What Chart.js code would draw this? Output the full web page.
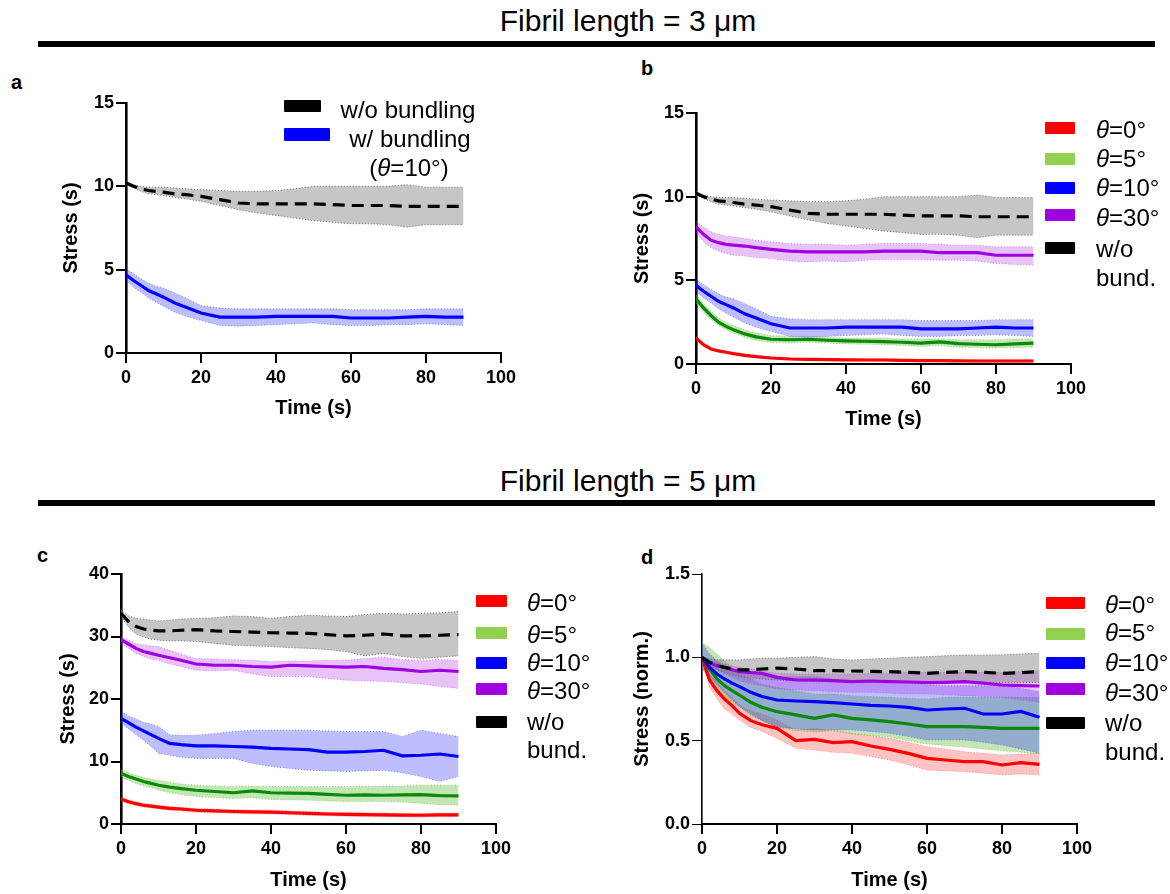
<!DOCTYPE html>
<html>
<head>
<meta charset="utf-8">
<script src="https://cdn.jsdelivr.net/npm/chart.js@4.4.1/dist/chart.umd.min.js"></script>
<style>
  html, body { margin: 0; padding: 0; background: #fff; }
  #page { position: relative; width: 1170px; height: 894px; overflow: hidden; font-family: "Liberation Sans", Arial, sans-serif; color: #000; }
  .box { position: absolute; }
  .box canvas { display: block; }
  .head { position: absolute; left: 628px; transform: translate(-50%, -50%); font-size: 30px; white-space: nowrap; }
  .rule { position: absolute; left: 38px; width: 1117px; height: 6px; background: #000; }
  .letter { position: absolute; font-weight: bold; font-size: 20px; transform: translateY(-50%); }
  .sw { position: absolute; height: 12px; border-radius: 1px; }
  .lt { position: absolute; font-size: 24px; transform: translateY(-50%); white-space: nowrap; }
</style>
</head>
<body>
<div id="page">
  <div class="head" style="top:21px">Fibril length = 3 μm</div>
  <div class="rule" style="top:41px"></div>
  <div class="head" style="top:481px">Fibril length = 5 μm</div>
  <div class="rule" style="top:500px"></div>
  <div class="letter" style="left:11px;top:82px">a</div>
  <div class="letter" style="left:641px;top:68px">b</div>
  <div class="letter" style="left:37px;top:555px">c</div>
  <div class="letter" style="left:641px;top:557px">d</div>
</div>
<script>
const TIME = [0, 2, 4, 6, 8, 10, 13, 16, 20, 25, 30, 35, 40, 45, 50, 55, 60, 65, 70, 75, 80, 85, 90];

// fibril length 3 um, stress (s)
const L3_WO_MEAN = [10.2, 10.0, 9.85, 9.75, 9.7, 9.65, 9.55, 9.5, 9.4, 9.2, 9.0, 8.95, 8.95, 8.95, 8.95, 8.9, 8.85, 8.85, 8.85, 8.8, 8.8, 8.8, 8.8];
const L3_WO_HI = [10.3, 10.1, 10.0, 9.95, 9.95, 9.95, 9.9, 9.85, 9.8, 9.75, 9.7, 9.7, 9.75, 9.85, 10.0, 10.0, 10.0, 10.0, 10.0, 10.1, 9.95, 9.95, 9.95];
const L3_WO_LO = [10.1, 9.9, 9.7, 9.55, 9.5, 9.45, 9.35, 9.25, 9.1, 8.85, 8.6, 8.4, 8.25, 8.1, 7.95, 7.85, 7.75, 7.75, 7.7, 7.55, 7.7, 7.7, 7.7];

const L3_T30_MEAN = [8.2, 7.75, 7.4, 7.25, 7.15, 7.1, 7.05, 6.95, 6.85, 6.75, 6.7, 6.7, 6.7, 6.7, 6.75, 6.75, 6.75, 6.65, 6.65, 6.65, 6.5, 6.5, 6.5];
const L3_T30_HI = [8.5, 8.2, 7.9, 7.75, 7.65, 7.6, 7.5, 7.4, 7.3, 7.2, 7.15, 7.15, 7.1, 7.15, 7.2, 7.2, 7.2, 7.15, 7.1, 7.1, 7.0, 7.0, 7.0];
const L3_T30_LO = [7.9, 7.3, 6.95, 6.75, 6.6, 6.5, 6.45, 6.35, 6.3, 6.15, 6.1, 6.15, 6.1, 6.2, 6.25, 6.25, 6.25, 6.2, 6.2, 6.15, 6.0, 5.95, 5.9];

const L3_T10_MEAN = [4.7, 4.35, 4.05, 3.75, 3.55, 3.35, 3.0, 2.75, 2.4, 2.15, 2.15, 2.15, 2.2, 2.2, 2.2, 2.2, 2.1, 2.1, 2.1, 2.15, 2.2, 2.15, 2.15];
const L3_T10_HI = [5.05, 4.75, 4.45, 4.2, 4.0, 3.9, 3.6, 3.3, 2.85, 2.7, 2.65, 2.65, 2.65, 2.65, 2.65, 2.65, 2.6, 2.6, 2.6, 2.6, 2.65, 2.65, 2.65];
const L3_T10_LO = [4.35, 3.95, 3.65, 3.3, 3.05, 2.8, 2.45, 2.2, 1.95, 1.65, 1.6, 1.65, 1.7, 1.75, 1.8, 1.7, 1.65, 1.65, 1.7, 1.7, 1.75, 1.7, 1.65];

const L3_T5_MEAN = [3.9, 3.35, 2.9, 2.5, 2.25, 2.05, 1.8, 1.62, 1.48, 1.45, 1.48, 1.42, 1.38, 1.36, 1.34, 1.3, 1.25, 1.32, 1.22, 1.18, 1.15, 1.2, 1.25];
const L3_T5_HI = [4.15, 3.6, 3.15, 2.75, 2.5, 2.3, 2.05, 1.85, 1.7, 1.65, 1.65, 1.6, 1.55, 1.55, 1.55, 1.5, 1.5, 1.5, 1.45, 1.45, 1.45, 1.5, 1.5];
const L3_T5_LO = [3.65, 3.1, 2.65, 2.3, 2.05, 1.85, 1.6, 1.42, 1.28, 1.25, 1.3, 1.25, 1.2, 1.18, 1.15, 1.1, 1.05, 1.1, 1.0, 0.98, 0.95, 0.98, 1.0];

const L3_T0_MEAN = [1.55, 1.15, 0.9, 0.78, 0.7, 0.62, 0.52, 0.44, 0.36, 0.3, 0.28, 0.26, 0.25, 0.24, 0.24, 0.22, 0.2, 0.2, 0.19, 0.18, 0.18, 0.18, 0.18];
const L3_T0_HI = [1.62, 1.22, 0.97, 0.85, 0.77, 0.69, 0.59, 0.51, 0.43, 0.37, 0.35, 0.33, 0.32, 0.31, 0.31, 0.29, 0.27, 0.27, 0.26, 0.25, 0.25, 0.25, 0.25];
const L3_T0_LO = [1.48, 1.08, 0.84, 0.72, 0.64, 0.56, 0.46, 0.38, 0.3, 0.24, 0.22, 0.2, 0.19, 0.18, 0.18, 0.16, 0.14, 0.14, 0.13, 0.12, 0.12, 0.12, 0.12];

// fibril length 5 um, stress (s)
const L5_WO_MEAN = [33.7, 32.4, 31.6, 31.2, 31.0, 30.9, 30.9, 31.0, 31.1, 30.9, 30.8, 30.7, 30.6, 30.55, 30.5, 30.3, 30.1, 30.2, 30.4, 30.1, 30.1, 30.2, 30.3];
const L5_WO_HI = [34.2, 33.3, 32.9, 32.8, 32.6, 32.5, 32.6, 32.8, 32.9, 33.0, 33.3, 33.2, 32.9, 33.2, 33.4, 33.3, 33.2, 33.5, 33.7, 33.6, 33.7, 33.8, 34.0];
const L5_WO_LO = [33.2, 31.5, 30.4, 29.9, 29.6, 29.4, 29.3, 29.3, 29.2, 28.9, 28.6, 28.5, 28.4, 28.2, 28.1, 27.9, 27.6, 26.9, 27.3, 26.8, 26.5, 26.7, 26.9];

const L5_T30_MEAN = [29.5, 28.8, 28.1, 27.6, 27.3, 27.0, 26.6, 26.2, 25.6, 25.4, 25.4, 25.2, 25.1, 25.4, 25.3, 25.2, 25.1, 25.2, 24.9, 24.7, 24.4, 24.6, 24.4];
const L5_T30_HI = [30.0, 29.4, 28.9, 28.7, 28.5, 28.4, 27.8, 27.2, 26.5, 26.4, 26.3, 26.2, 26.0, 26.1, 26.1, 26.2, 26.2, 26.5, 26.7, 26.3, 26.2, 26.3, 26.2];
const L5_T30_LO = [28.9, 28.1, 27.3, 26.8, 26.4, 26.2, 25.6, 25.2, 24.6, 24.5, 24.6, 24.0, 23.6, 23.6, 23.6, 23.3, 23.0, 22.9, 22.8, 22.6, 22.4, 22.0, 21.7];

const L5_T10_MEAN = [16.9, 16.2, 15.5, 14.9, 14.3, 13.7, 12.9, 12.7, 12.5, 12.5, 12.4, 12.3, 12.1, 12.0, 11.9, 11.5, 11.5, 11.6, 11.8, 10.9, 11.0, 11.2, 10.8];
const L5_T10_HI = [18.0, 17.3, 16.8, 16.3, 16.0, 15.6, 14.3, 14.2, 14.2, 14.5, 14.8, 15.0, 15.0, 15.0, 15.0, 14.9, 14.8, 14.8, 14.8, 14.0, 15.0, 14.5, 14.0];
const L5_T10_LO = [16.1, 15.2, 14.3, 13.4, 12.4, 11.3, 11.0, 10.7, 10.5, 10.5, 10.5, 9.7, 9.2, 8.9, 8.6, 8.5, 8.4, 8.5, 8.6, 8.2, 7.6, 6.8, 7.6];

const L5_T5_MEAN = [8.1, 7.6, 7.2, 6.8, 6.5, 6.2, 5.9, 5.65, 5.4, 5.2, 5.0, 5.3, 5.0, 4.95, 4.9, 4.75, 4.6, 4.65, 4.6, 4.65, 4.7, 4.55, 4.5];
const L5_T5_HI = [8.7, 8.2, 7.8, 7.5, 7.2, 7.0, 6.7, 6.4, 6.2, 6.1, 6.0, 6.1, 6.0, 6.0, 6.0, 6.0, 6.0, 6.05, 6.1, 6.1, 6.2, 6.2, 6.2];
const L5_T5_LO = [7.6, 7.0, 6.5, 6.1, 5.8, 5.4, 5.0, 4.7, 4.4, 4.2, 4.1, 4.2, 3.9, 3.85, 3.8, 3.7, 3.6, 3.6, 3.6, 3.5, 3.3, 3.1, 3.0];

const L5_T0_MEAN = [4.0, 3.55, 3.25, 3.0, 2.85, 2.7, 2.5, 2.4, 2.2, 2.1, 2.0, 1.95, 1.9, 1.8, 1.7, 1.6, 1.55, 1.5, 1.45, 1.42, 1.4, 1.45, 1.45];
const L5_T0_HI = [4.3, 3.85, 3.55, 3.3, 3.15, 3.0, 2.8, 2.7, 2.5, 2.4, 2.3, 2.25, 2.2, 2.1, 2.0, 1.9, 1.85, 1.8, 1.75, 1.72, 1.7, 1.75, 1.75];
const L5_T0_LO = [3.7, 3.25, 2.95, 2.7, 2.55, 2.4, 2.2, 2.1, 1.9, 1.8, 1.7, 1.65, 1.6, 1.5, 1.4, 1.3, 1.25, 1.2, 1.15, 1.12, 1.1, 1.15, 1.15];

// fibril length 5 um, stress normalised
const N5_WO_MEAN = [1.0, 0.97, 0.95, 0.94, 0.93, 0.925, 0.925, 0.93, 0.935, 0.93, 0.92, 0.92, 0.918, 0.916, 0.914, 0.91, 0.904, 0.91, 0.914, 0.91, 0.904, 0.908, 0.914];
const N5_WO_HI = [1.0, 0.99, 0.985, 0.985, 0.985, 0.984, 0.99, 0.995, 0.995, 1.0, 1.004, 0.99, 0.984, 0.99, 0.995, 1.0, 1.004, 1.01, 1.014, 1.014, 1.015, 1.02, 1.024];
const N5_WO_LO = [1.0, 0.95, 0.925, 0.91, 0.895, 0.884, 0.875, 0.87, 0.864, 0.86, 0.854, 0.854, 0.854, 0.854, 0.854, 0.852, 0.85, 0.85, 0.85, 0.848, 0.848, 0.848, 0.85];

const N5_T30_MEAN = [1.0, 0.965, 0.95, 0.94, 0.925, 0.914, 0.908, 0.904, 0.88, 0.864, 0.864, 0.86, 0.854, 0.858, 0.854, 0.852, 0.848, 0.85, 0.854, 0.845, 0.834, 0.83, 0.828];
const N5_T30_HI = [1.0, 0.98, 0.97, 0.96, 0.95, 0.94, 0.93, 0.92, 0.905, 0.9, 0.9, 0.9, 0.9, 0.905, 0.905, 0.91, 0.91, 0.91, 0.91, 0.91, 0.91, 0.915, 0.92];
const N5_T30_LO = [1.0, 0.95, 0.925, 0.9, 0.88, 0.86, 0.84, 0.83, 0.81, 0.805, 0.8, 0.795, 0.79, 0.79, 0.785, 0.78, 0.78, 0.775, 0.77, 0.765, 0.76, 0.745, 0.73];

const N5_T10_MEAN = [1.0, 0.94, 0.9, 0.87, 0.845, 0.824, 0.79, 0.765, 0.744, 0.738, 0.734, 0.728, 0.72, 0.712, 0.708, 0.7, 0.684, 0.69, 0.694, 0.66, 0.66, 0.675, 0.64];
const N5_T10_HI = [1.084, 1.02, 0.98, 0.95, 0.925, 0.904, 0.895, 0.89, 0.884, 0.884, 0.884, 0.87, 0.854, 0.854, 0.854, 0.845, 0.834, 0.83, 0.83, 0.83, 0.83, 0.815, 0.794];
const N5_T10_LO = [0.934, 0.88, 0.835, 0.79, 0.745, 0.704, 0.66, 0.62, 0.584, 0.57, 0.564, 0.564, 0.564, 0.555, 0.544, 0.525, 0.504, 0.505, 0.504, 0.49, 0.474, 0.45, 0.424];

const N5_T5_MEAN = [1.0, 0.93, 0.87, 0.83, 0.8, 0.774, 0.73, 0.7, 0.674, 0.655, 0.634, 0.654, 0.634, 0.625, 0.614, 0.6, 0.584, 0.584, 0.584, 0.58, 0.574, 0.574, 0.574];
const N5_T5_HI = [1.09, 1.06, 1.02, 0.98, 0.94, 0.9, 0.87, 0.84, 0.82, 0.8, 0.78, 0.78, 0.77, 0.765, 0.76, 0.755, 0.75, 0.76, 0.76, 0.76, 0.76, 0.76, 0.76];
const N5_T5_LO = [0.94, 0.85, 0.8, 0.76, 0.73, 0.7, 0.65, 0.62, 0.58, 0.56, 0.55, 0.56, 0.54, 0.53, 0.52, 0.5, 0.48, 0.47, 0.46, 0.45, 0.44, 0.43, 0.42];

const N5_T0_MEAN = [1.0, 0.864, 0.8, 0.75, 0.71, 0.664, 0.62, 0.595, 0.574, 0.5, 0.508, 0.488, 0.494, 0.468, 0.448, 0.424, 0.394, 0.384, 0.374, 0.374, 0.354, 0.368, 0.358];
const N5_T0_HI = [1.0, 0.9, 0.85, 0.8, 0.76, 0.714, 0.68, 0.66, 0.624, 0.564, 0.574, 0.56, 0.544, 0.53, 0.514, 0.49, 0.464, 0.45, 0.434, 0.424, 0.414, 0.42, 0.424];
const N5_T0_LO = [1.0, 0.82, 0.75, 0.69, 0.66, 0.624, 0.58, 0.555, 0.514, 0.454, 0.444, 0.43, 0.424, 0.405, 0.384, 0.355, 0.324, 0.318, 0.314, 0.305, 0.294, 0.3, 0.294];

const X_TICKS = [0, 20, 40, 60, 80, 100];
const LEGEND_THETA = ["0", "5", "10", "30"];

const FONT = "'Liberation Sans', Arial, sans-serif";
const STYLE = {
  wo:  { line: "#000000", band: "rgba(120,120,120,0.42)", edge: "rgba(90,90,90,0.8)", dash: [12, 7], swatch: "#000000" },
  t30: { line: "#a000e0", band: "rgba(170,40,230,0.28)", edge: "rgba(170,40,230,0.45)", dash: [], swatch: "#a000e0" },
  t10: { line: "#0000ff", band: "rgba(40,40,255,0.30)", edge: "rgba(40,40,255,0.45)", dash: [], swatch: "#0000ff" },
  t5:  { line: "#0a8a0a", band: "rgba(100,190,60,0.38)", edge: "rgba(100,190,60,0.55)", dash: [], swatch: "#92d050" },
  t0:  { line: "#ff0000", band: "rgba(255,40,40,0.28)", edge: "rgba(255,40,40,0.45)", dash: [], swatch: "#ff0000" }
};

function pts(values) {
  return TIME.map((t, i) => ({ x: t, y: values[i] }));
}

function buildDatasets(series) {
  const lines = [];
  const bands = [];
  series.forEach((s) => {
    const st = STYLE[s.key];
    lines.push({
      data: pts(s.mean), borderColor: st.line, borderWidth: 3.2, borderDash: st.dash,
      pointRadius: 0, fill: false, tension: 0
    });
    bands.push({
      data: pts(s.hi), borderColor: st.edge, borderWidth: 1, borderDash: [1, 2],
      pointRadius: 0, fill: false, tension: 0
    });
    bands.push({
      data: pts(s.lo), borderColor: st.edge, borderWidth: 1, borderDash: [1, 2],
      pointRadius: 0, fill: "-1", backgroundColor: st.band, tension: 0
    });
  });
  // lines first: lower index is painted last, so lines end on top of bands
  return lines.concat(bands);
}

const SERIES_3 = [
  { key: "wo", mean: L3_WO_MEAN, hi: L3_WO_HI, lo: L3_WO_LO },
  { key: "t30", mean: L3_T30_MEAN, hi: L3_T30_HI, lo: L3_T30_LO },
  { key: "t10", mean: L3_T10_MEAN, hi: L3_T10_HI, lo: L3_T10_LO },
  { key: "t5", mean: L3_T5_MEAN, hi: L3_T5_HI, lo: L3_T5_LO },
  { key: "t0", mean: L3_T0_MEAN, hi: L3_T0_HI, lo: L3_T0_LO }
];

const PANELS = [
  { box: [0, 60, 600, 380], area: [126, 501, 103, 353], yTitleX: 71, xTitleY: 408, yMax: 15, yStep: 5, digits: 0,
    yTitle: "Stress (s)", yAxisW: 2.6, series: [SERIES_3[0], SERIES_3[2]] },
  { box: [600, 60, 570, 380], area: [696, 1071, 113, 364], yTitleX: 642, xTitleY: 419, yMax: 15, yStep: 5, digits: 0,
    yTitle: "Stress (s)", yAxisW: 2.6, series: SERIES_3 },
  { box: [0, 520, 600, 374], area: [121, 496, 574, 824], yTitleX: 68, xTitleY: 880, yMax: 40, yStep: 10, digits: 0,
    yTitle: "Stress (s)", yAxisW: 2.6, series: [
      { key: "wo", mean: L5_WO_MEAN, hi: L5_WO_HI, lo: L5_WO_LO },
      { key: "t30", mean: L5_T30_MEAN, hi: L5_T30_HI, lo: L5_T30_LO },
      { key: "t10", mean: L5_T10_MEAN, hi: L5_T10_HI, lo: L5_T10_LO },
      { key: "t5", mean: L5_T5_MEAN, hi: L5_T5_HI, lo: L5_T5_LO },
      { key: "t0", mean: L5_T0_MEAN, hi: L5_T0_HI, lo: L5_T0_LO }
    ] },
  { box: [600, 520, 570, 374], area: [702, 1077, 574, 824], yTitleX: 642, xTitleY: 880, yMax: 1.5, yStep: 0.5, digits: 1,
    yTitle: "Stress (norm.)", yAxisW: 1.6, series: [
      { key: "wo", mean: N5_WO_MEAN, hi: N5_WO_HI, lo: N5_WO_LO },
      { key: "t30", mean: N5_T30_MEAN, hi: N5_T30_HI, lo: N5_T30_LO },
      { key: "t10", mean: N5_T10_MEAN, hi: N5_T10_HI, lo: N5_T10_LO },
      { key: "t5", mean: N5_T5_MEAN, hi: N5_T5_HI, lo: N5_T5_LO },
      { key: "t0", mean: N5_T0_MEAN, hi: N5_T0_HI, lo: N5_T0_LO }
    ] }
];

const TITLE_SIZE = 20;
const page = document.getElementById("page");

function makePanel(p) {
  const [bx, by, bw, bh] = p.box;
  const [L, R, T, B] = p.area;
  const half = TITLE_SIZE / 2;
  const yBoxLeft = p.yTitleX - half;
  const xBoxBottom = p.xTitleY + half;

  const wrap = document.createElement("div");
  wrap.className = "box";
  wrap.style.left = bx + "px";
  wrap.style.top = by + "px";
  wrap.style.width = bw + "px";
  wrap.style.height = bh + "px";
  const canvas = document.createElement("canvas");
  canvas.width = bw;
  canvas.height = bh;
  wrap.appendChild(canvas);
  page.appendChild(wrap);

  const tickFont = { family: FONT, size: 18, weight: "bold" };
  const titleFont = { family: FONT, size: TITLE_SIZE, weight: "bold", lineHeight: 1 };

  new Chart(canvas.getContext("2d"), {
    type: "line",
    data: { datasets: buildDatasets(p.series) },
    options: {
      responsive: false,
      animation: false,
      events: [],
      layout: {
        padding: { left: yBoxLeft - bx, right: bx + bw - R, top: T - by, bottom: by + bh - xBoxBottom }
      },
      plugins: { legend: { display: false }, tooltip: { enabled: false } },
      scales: {
        x: {
          type: "linear", min: 0, max: 100,
          afterBuildTicks(scale) { scale.ticks = X_TICKS.map((v) => ({ value: v })); },
          afterFit(scale) { scale.height = xBoxBottom - B; },
          ticks: { color: "#000", font: tickFont, padding: 4, maxRotation: 0 },
          grid: { drawOnChartArea: false, drawTicks: true, tickLength: 10, color: "#000", lineWidth: 2 },
          border: { display: true, color: "#000", width: 2 },
          title: { display: true, text: "Time (s)", color: "#000", font: titleFont, padding: 0 }
        },
        y: {
          type: "linear", min: 0, max: p.yMax,
          afterFit(scale) { scale.width = L - yBoxLeft; },
          ticks: { color: "#000", font: tickFont, padding: 2, stepSize: p.yStep,
            callback: (v) => Number(v).toFixed(p.digits) },
          grid: { drawOnChartArea: false, drawTicks: true, tickLength: 10, color: "#000", lineWidth: p.yAxisW - 0.6 },
          border: { display: true, color: "#000", width: p.yAxisW },
          title: { display: true, text: p.yTitle, color: "#000", font: titleFont, padding: 0 }
        }
      }
    }
  });
}

PANELS.forEach(makePanel);

// legends
function addSwatch(x, y, w, h, color) {
  const d = document.createElement("div");
  d.className = "sw";
  d.style.cssText = `left:${x}px;top:${y}px;width:${w}px;height:${h}px;background:${color}`;
  page.appendChild(d);
}
function addText(html, x, cy, centered) {
  const d = document.createElement("div");
  d.className = "lt";
  d.innerHTML = html;
  d.style.left = x + "px";
  d.style.top = cy + "px";
  if (centered) d.style.transform = "translate(-50%,-50%)";
  page.appendChild(d);
}

// panel a
addSwatch(284, 100, 37, 12, STYLE.wo.swatch);
addSwatch(284, 128, 46, 13, STYLE.t10.swatch);
addText("w/o bundling", 408, 110, true);
addText("w/ bundling", 410, 139, true);
addText("(<i>θ</i>=10°)", 409, 168, true);

// panels b, c, d
const LEGENDS = [
  { swX: 1045, swW: 30, tops: [122, 153, 182, 209, 242], textX: 1096, centers: [130, 159, 188, 218, 249, 278] },
  { swX: 476, swW: 31, tops: [595, 627, 657, 683, 716], textX: 527, centers: [603, 635, 663, 691, 722, 750] },
  { swX: 1046, swW: 39, tops: [597, 628, 657, 683, 717], textX: 1105, centers: [605, 633, 663, 693, 723, 752] }
];
const LEGEND_KEYS = ["t0", "t5", "t10", "t30", "wo"];
LEGENDS.forEach((lg) => {
  LEGEND_KEYS.forEach((k, i) => addSwatch(lg.swX, lg.tops[i], lg.swW, 12, STYLE[k].swatch));
  LEGEND_THETA.forEach((th, i) => addText(`<i>θ</i>=${th}°`, lg.textX, lg.centers[i], false));
  addText("w/o", lg.textX, lg.centers[4], false);
  addText("bund.", lg.textX, lg.centers[5], false);
});
</script>
</body>
</html>
